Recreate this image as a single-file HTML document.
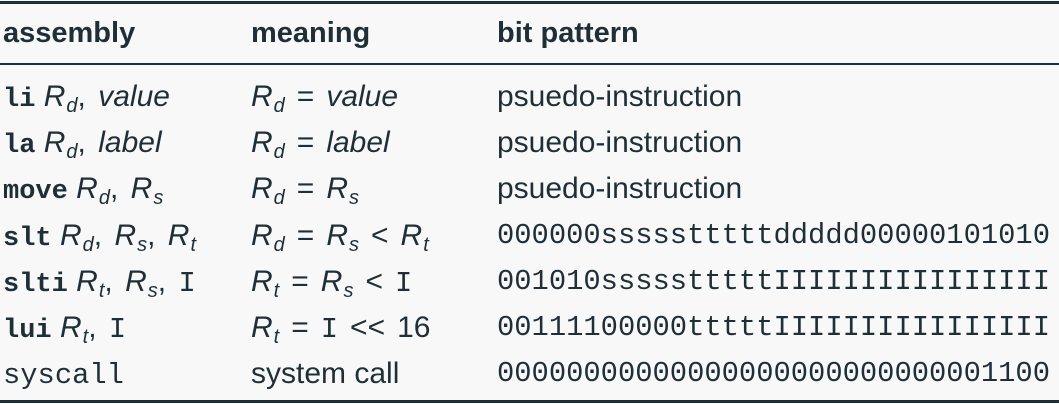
<!DOCTYPE html>
<html><head><style>
body{margin:0;width:1059px;height:404px;background:#f8f8f8;color:#1f2f38;font-family:"Liberation Sans",sans-serif;position:relative;overflow:hidden}
.r{position:absolute;height:1px;background:#1f2f38;left:0;width:1059px}
.t{position:absolute;font-size:30px;line-height:40px;white-space:nowrap}
.h{font-weight:bold;font-size:29px}
.m{font-family:"Liberation Mono",monospace;font-size:28.8px}
.mb{font-family:"Liberation Mono",monospace;font-weight:bold;font-size:27px}
i{font-style:italic}
sub{font-size:20px;vertical-align:-6px;line-height:0;font-style:italic;margin-left:1px}
.o{margin:0 12px}
.c{margin-right:4px}
</style></head><body>
<div class="r" style="top:1px;height:3px"></div>
<div class="r" style="top:63px;height:2px"></div>
<div class="r" style="top:400px;height:3px"></div>

<div class="t h" style="left:3px;top:13px">assembly</div>
<div class="t h" style="left:251px;top:13px">meaning</div>
<div class="t h" style="left:497px;top:13px">bit pattern</div>

<div class="t" style="left:3px;top:77px"><span class="mb">li</span> <i>R</i><sub>d</sub><span class="c">,</span> <i>value</i></div>
<div class="t" style="left:3px;top:123px"><span class="mb">la</span> <i>R</i><sub>d</sub><span class="c">,</span> <i>label</i></div>
<div class="t" style="left:3px;top:169px"><span class="mb">move</span> <i>R</i><sub>d</sub><span class="c">,</span> <i>R</i><sub>s</sub></div>
<div class="t" style="left:3px;top:216px"><span class="mb">slt</span> <i>R</i><sub>d</sub><span class="c">,</span> <i>R</i><sub>s</sub><span class="c">,</span> <i>R</i><sub>t</sub></div>
<div class="t" style="left:3px;top:262px"><span class="mb">slti</span> <i>R</i><sub>t</sub><span class="c">,</span> <i>R</i><sub>s</sub><span class="c">,</span> <span class="m">I</span></div>
<div class="t" style="left:3px;top:308px"><span class="mb">lui</span> <i>R</i><sub>t</sub><span class="c">,</span> <span class="m">I</span></div>
<div class="t" style="left:3px;top:354px"><span class="m">syscall</span></div>

<div class="t" style="left:251px;top:77px"><i>R</i><sub>d</sub><span class="o">=</span><i>value</i></div>
<div class="t" style="left:251px;top:123px"><i>R</i><sub>d</sub><span class="o">=</span><i>label</i></div>
<div class="t" style="left:251px;top:169px"><i>R</i><sub>d</sub><span class="o">=</span><i>R</i><sub>s</sub></div>
<div class="t" style="left:251px;top:216px"><i>R</i><sub>d</sub><span class="o">=</span><i>R</i><sub>s</sub><span class="o">&lt;</span><i>R</i><sub>t</sub></div>
<div class="t" style="left:251px;top:262px"><i>R</i><sub>t</sub><span class="o">=</span><i>R</i><sub>s</sub><span class="o">&lt;</span><span class="m">I</span></div>
<div class="t" style="left:251px;top:308px"><i>R</i><sub>t</sub><span class="o">=</span><span class="m">I</span><span class="o">&lt;&lt;</span>16</div>
<div class="t" style="left:251px;top:354px">system call</div>

<div class="t" style="left:497px;top:77px">psuedo-instruction</div>
<div class="t" style="left:497px;top:123px">psuedo-instruction</div>
<div class="t" style="left:497px;top:169px">psuedo-instruction</div>
<div class="t m" style="left:497px;top:216px">000000ssssstttttddddd00000101010</div>
<div class="t m" style="left:497px;top:262px">001010ssssstttttIIIIIIIIIIIIIIII</div>
<div class="t m" style="left:497px;top:308px">00111100000tttttIIIIIIIIIIIIIIII</div>
<div class="t m" style="left:497px;top:354px">00000000000000000000000000001100</div>
</body></html>
